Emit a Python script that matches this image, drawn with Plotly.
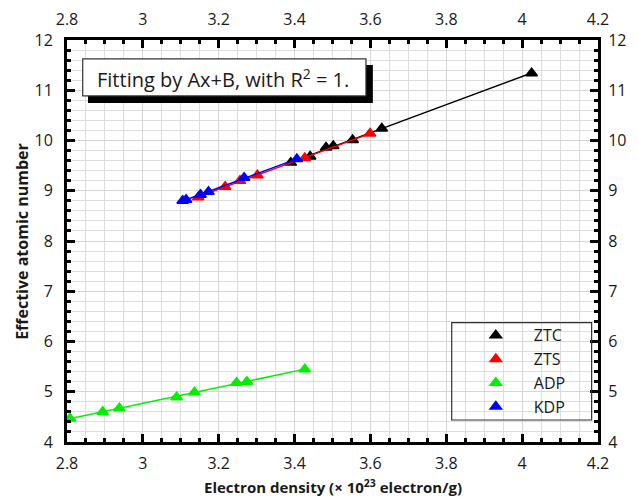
import numpy as np
import plotly.graph_objects as go

# ---- data ----
ztc_x = [3.390, 3.441, 3.483, 3.502, 3.553, 3.630, 4.025]
ztc_y = [9.56, 9.68, 9.86, 9.89, 10.01, 10.24, 11.34]

zts_x = [3.146, 3.217, 3.256, 3.302, 3.427, 3.599]
zts_y = [8.87, 9.08, 9.20, 9.31, 9.65, 10.14]

adp_x = [2.808, 2.894, 2.938, 3.089, 3.136, 3.247, 3.274, 3.427]
adp_y = [4.47, 4.60, 4.67, 4.89, 4.99, 5.18, 5.20, 5.45]

kdp_x = [3.105, 3.114, 3.152, 3.173, 3.267, 3.406]
kdp_y = [8.80, 8.82, 8.92, 8.98, 9.26, 9.63]

series = [
    ("ZTC", ztc_x, ztc_y, "#000000"),
    ("ZTS", zts_x, zts_y, "#ff0000"),
    ("ADP", adp_x, adp_y, "#00f000"),
    ("KDP", kdp_x, kdp_y, "#0000ff"),
]

x_ticks = [2.8, 3.0, 3.2, 3.4, 3.6, 3.8, 4.0, 4.2]
x_tick_text = ["2.8", "3", "3.2", "3.4", "3.6", "3.8", "4", "4.2"]
y_ticks = [4, 5, 6, 7, 8, 9, 10, 11, 12]

FONT = "Open Sans"
TXT = "#1a1a1a"

fig = go.Figure()

for name, xs, ys, col in series:
    xs_a = np.array(xs)
    ys_a = np.array(ys)
    a, b = np.polyfit(xs_a, ys_a, 1)
    fx = np.array([xs_a.min(), xs_a.max()])
    if name == "ADP":
        fx = np.array([2.8, xs_a.max()])
    fig.add_trace(go.Scatter(x=fx, y=a * fx + b, mode="lines",
                             line=dict(color=col, width=1.5),
                             showlegend=False, hoverinfo="skip"))
    fig.add_trace(go.Scatter(x=xs, y=ys, mode="markers", name=name,
                             marker=dict(symbol="triangle-up", size=10, color=col,
                                         line=dict(width=1.5, color=col))))

# invisible trace for secondary axes
fig.add_trace(go.Scatter(x=[3.0], y=[8.0], xaxis="x2", yaxis="y2", mode="markers",
                         marker=dict(opacity=0), showlegend=False, hoverinfo="skip"))

axis_common = dict(
    showline=True, linewidth=3, linecolor="black",
    ticks="inside", ticklen=8, tickwidth=3, tickcolor="black",
    tickfont=dict(family=FONT, size=16, color=TXT),
    zeroline=False, automargin=False,
)
minor_x = dict(dtick=0.05, ticks="inside", ticklen=4, tickwidth=2.5, tickcolor="black")
minor_y = dict(dtick=0.2, ticks="inside", ticklen=4, tickwidth=2.5, tickcolor="black")

# the page body adds an 8px margin, so the figure is sized to fill the rest of the window
fig.update_layout(
    width=630, height=493,
    margin=dict(l=59, r=40, t=32, b=59),
    paper_bgcolor="white", plot_bgcolor="white",
    font=dict(family=FONT, color=TXT),
    xaxis=dict(range=[2.8, 4.2], tickvals=x_ticks, ticktext=x_tick_text,
               showgrid=True, gridcolor="#d6d6d6", gridwidth=1,
               minor=dict(**minor_x, showgrid=True, gridcolor="#dedede", gridwidth=1),
               ticklabelstandoff=5,
               **axis_common),
    yaxis=dict(range=[4, 12], tickvals=y_ticks,
               showgrid=True, gridcolor="#d6d6d6", gridwidth=1,
               minor=dict(**minor_y, showgrid=True, gridcolor="#dedede", gridwidth=1),
               ticklabelstandoff=8,
               **axis_common),
    xaxis2=dict(range=[2.8, 4.2], overlaying="x", side="top", anchor="y",
                tickvals=x_ticks, ticktext=x_tick_text, showgrid=False,
                minor=minor_x, ticklabelstandoff=6,
                **axis_common),
    yaxis2=dict(range=[4, 12], overlaying="y", side="right", anchor="x",
                tickvals=y_ticks, showgrid=False,
                minor=minor_y, ticklabelstandoff=4,
                **axis_common),
    legend=dict(x=0.736, y=0.176, xanchor="left", yanchor="middle",
                bgcolor="rgba(0,0,0,0)", borderwidth=0,
                font=dict(family=FONT, size=16, color=TXT),
                itemwidth=66, tracegroupgap=0),
    showlegend=True,
)

# axis titles
fig.add_annotation(x=0.5, y=-0.11, xref="paper", yref="paper", showarrow=False,
                   xanchor="center", yanchor="middle",
                   text="Electron density (× 10<sup>23</sup> electron/g)",
                   font=dict(family=FONT, size=15, color=TXT, weight="bold"))
fig.add_annotation(x=-0.085, y=0.5, xref="paper", yref="paper", showarrow=False,
                   xanchor="center", yanchor="middle", textangle=-90,
                   text="Effective atomic number",
                   font=dict(family=FONT, size=16, color=TXT, weight="bold"))

# legend frame
fig.add_shape(type="rect", xref="paper", yref="paper", x0=0.7245, x1=0.988, y0=0.0547, y1=0.2968,
              line=dict(color="#333", width=1.2), fillcolor="rgba(0,0,0,0)", layer="above")

# text box with shadow
fig.add_shape(type="rect", xref="paper", yref="paper", x0=0.0395, x1=0.576, y0=0.843, y1=0.938,
              line=dict(width=0), fillcolor="black", layer="above")
fig.add_shape(type="rect", xref="paper", yref="paper", x0=0.0296, x1=0.563, y0=0.861, y1=0.953,
              line=dict(color="#333", width=1.2), fillcolor="white", layer="above")
fig.add_annotation(x=0.293, y=0.905, xref="paper", yref="paper", showarrow=False,
                   xanchor="center", yanchor="middle",
                   text="Fitting by Ax+B, with R<sup>2</sup> = 1.",
                   font=dict(family=FONT, size=20, color=TXT))

fig.write_html("out.html")
